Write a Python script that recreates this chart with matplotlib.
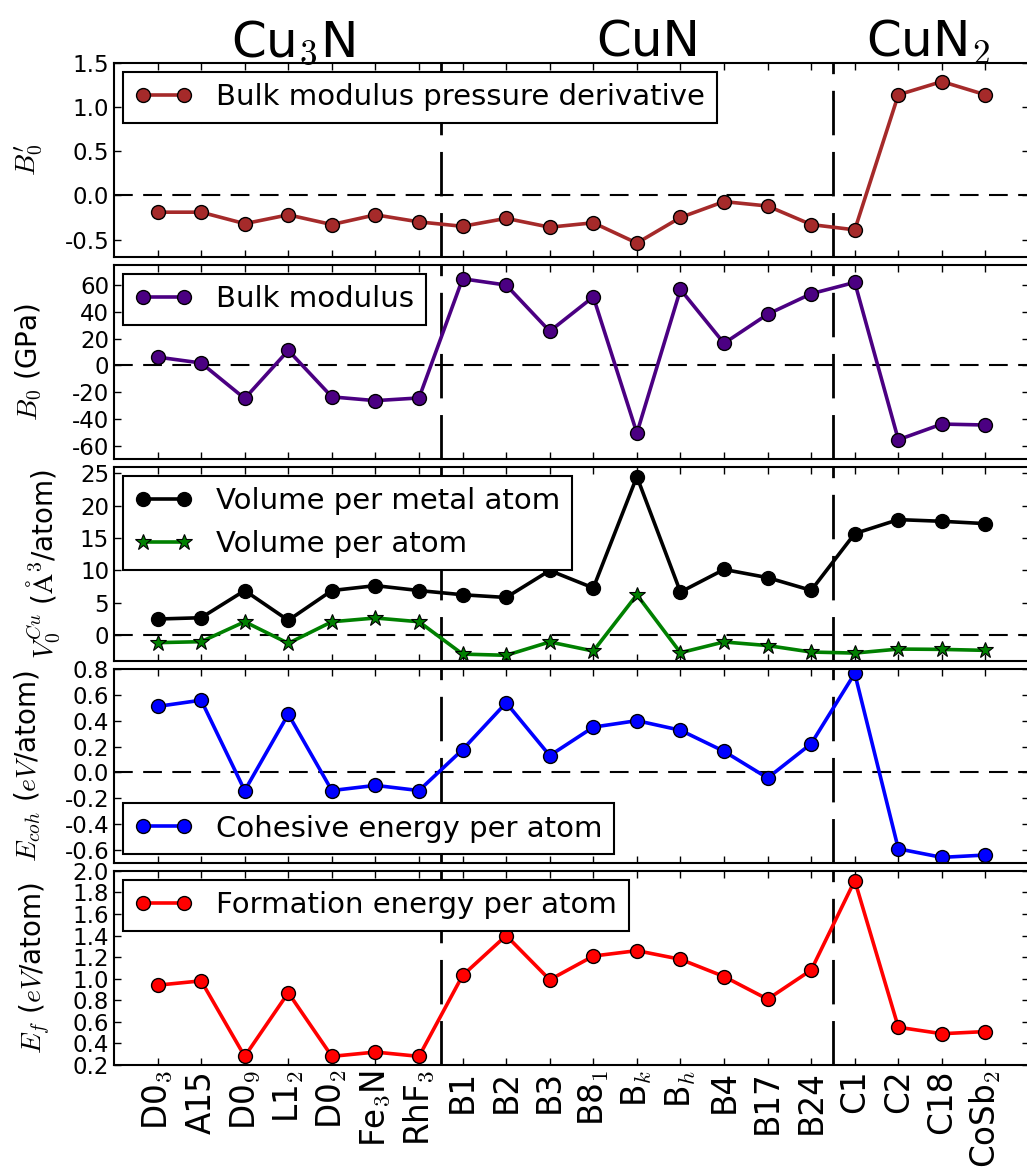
import numpy as np
import matplotlib
matplotlib.use('Agg')
from matplotlib import pyplot as plt
from matplotlib.ticker import FormatStrFormatter

plt.rcParams['mathtext.fontset'] = 'cm'
plt.rcParams['axes.linewidth'] = 1.5

# Structures, grouped by stoichiometry
structures = ['D0$_3$', 'A15', 'D0$_9$', 'L1$_2$', 'D0$_2$', 'Fe$_3$N', 'RhF$_3$',
              'B1', 'B2', 'B3', 'B8$_1$', 'B$_k$', 'B$_h$', 'B4', 'B17', 'B24',
              'C1', 'C2', 'C18', 'CoSb$_2$']
groups = ['Cu$_3$N', 'CuN', 'CuN$_2$']
group_centers = [3.1, 11.25, 17.68]
group_edges = [6.5, 15.5]

b0_prime = [-0.19, -0.19, -0.32, -0.22, -0.33, -0.22, -0.30,
            -0.35, -0.26, -0.36, -0.31, -0.54, -0.25, -0.07, -0.12, -0.33,
            -0.39, 1.14, 1.29, 1.14]
b0 = [6.2, 1.8, -24.7, 11.2, -23.5, -26.3, -24.3,
      64.7, 60.0, 25.5, 51.2, -50.5, 56.7, 16.5, 38.2, 53.5,
      62.0, -55.5, -43.8, -44.5]
vol_metal = [2.5, 2.7, 6.9, 2.3, 6.9, 7.66, 6.9,
             6.25, 5.83, 10.0, 7.3, 24.5, 6.67, 10.16, 8.9, 6.93,
             15.7, 17.86, 17.6, 17.24]
vol_atom = [-1.15, -1.0, 2.08, -1.25, 2.08, 2.66, 2.08,
            -2.92, -3.1, -1.04, -2.45, 6.25, -2.7, -1.04, -1.6, -2.6,
            -2.76, -2.14, -2.19, -2.34]
e_coh = [0.51, 0.558, -0.14, 0.45, -0.14, -0.10, -0.14,
         0.176, 0.538, 0.13, 0.35, 0.40, 0.326, 0.163, -0.043, 0.222,
         0.765, -0.59, -0.656, -0.638]
e_form = [0.94, 0.98, 0.28, 0.87, 0.28, 0.32, 0.28,
          1.03, 1.40, 0.99, 1.21, 1.26, 1.18, 1.02, 0.81, 1.08,
          1.91, 0.55, 0.49, 0.51]

x = np.arange(len(structures))

fig, axes = plt.subplots(5, 1, sharex=True, figsize=(10.27, 11.67), dpi=100)
fig.subplots_adjust(left=0.111, right=1.002, top=0.946, bottom=0.0874, hspace=0.04)

mk = dict(lw=2.6, ms=10, mec='k', mew=1)

ax = axes[0]
ax.plot(x, b0_prime, 'o-', color='#a52a2a', label='Bulk modulus pressure derivative', **mk)
ax.set_ylim(-0.7, 1.5)
ax.set_yticks([-0.5, 0.0, 0.5, 1.0, 1.5])
ax.set_ylabel("$B_0'$", fontsize=20)

ax = axes[1]
ax.plot(x, b0, 'o-', color='#4b0082', label='Bulk modulus', **mk)
ax.set_ylim(-70, 75)
ax.set_yticks([-60, -40, -20, 0, 20, 40, 60])
ax.set_ylabel('$B_0$ (GPa)', fontsize=20)

ax = axes[2]
ax.plot(x, vol_metal, 'o-', color='k', label='Volume per metal atom', **mk)
ax.plot(x, vol_atom, '*-', color='green', label='Volume per atom', lw=2.6, ms=12, mec='k', mew=0.8)
ax.set_ylim(-4, 26)
ax.set_yticks([0, 5, 10, 15, 20, 25])
ax.set_ylabel(r'$V_0^{Cu}$ ($\mathrm{\AA}^3$/atom)', fontsize=20)

ax = axes[3]
ax.plot(x, e_coh, 'o-', color='blue', label='Cohesive energy per atom', **mk)
ax.set_ylim(-0.7, 0.8)
ax.set_yticks(np.arange(-0.6, 0.81, 0.2))
ax.set_ylabel('$E_{coh}$ ($eV$/atom)', fontsize=20)

ax = axes[4]
ax.plot(x, e_form, 'o-', color='red', label='Formation energy per atom', **mk)
ax.set_ylim(0.2, 2.0)
ax.set_yticks(np.arange(0.2, 2.01, 0.2))
ax.set_ylabel('$E_f$ ($eV$/atom)', fontsize=20)

legend_locs = ['upper left', 'upper left', 'upper left', 'lower left', 'upper left']
label_x = [-0.075, -0.076, -0.057, -0.078, -0.067]
formats = ['%.1f', '%d', '%d', '%.1f', '%.1f']

for i, ax in enumerate(axes):
    if i < 4:
        ax.axhline(0, color='k', lw=1.5, dashes=(9, 5), zorder=1)
    for xe in group_edges:
        ax.axvline(xe, color='k', lw=2, dashes=(16, 6), zorder=1)
    ax.tick_params(direction='in', top=True, right=True, length=5, width=1,
                   labelsize=16.5, labelright=False)
    ax.yaxis.set_major_formatter(FormatStrFormatter(formats[i]))
    ax.yaxis.set_label_coords(label_x[i], 0.5)
    leg = ax.legend(loc=legend_locs[i], fontsize=21, numpoints=2, fancybox=False,
                    framealpha=1, edgecolor='k', handlelength=2.0,
                    handletextpad=0.8, borderaxespad=0.3)
    leg.get_frame().set_linewidth(1.5)
    leg.set_zorder(5)

axes[-1].set_xlim(-1, 20)
axes[-1].set_xticks(x)
axes[-1].set_xticklabels(structures, rotation=90, fontsize=23.5)

for name, xc in zip(groups, group_centers):
    axes[0].text(xc, 1.036, name, transform=axes[0].get_xaxis_transform(),
                 ha='center', va='baseline', fontsize=36)

fig.savefig('out.png', dpi=100)
